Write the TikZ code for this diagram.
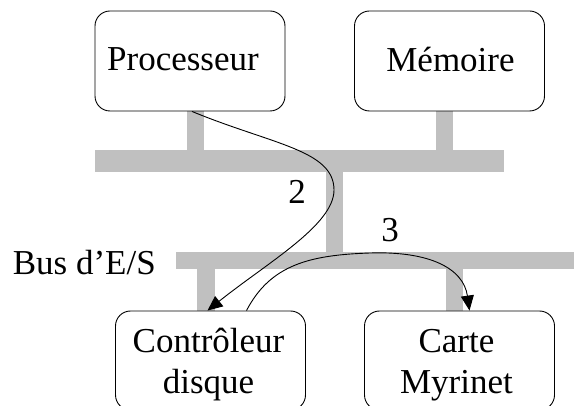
\documentclass[tikz,border=0pt]{standalone}
\usepackage{fontspec}
\setmainfont{Liberation Serif}
\usetikzlibrary{arrows.meta}
\definecolor{busgray}{RGB}{192,192,192}
% box text moved by (#1 right, #2 up) without changing the box size
\newcommand{\placed}[3]{\hspace*{#1}\raisebox{#2}[\height][\depth]{#3}\hspace*{-#1}}
\newcommand{\twolines}[2]{\begin{tabular}{@{}c@{}}#1\\#2\end{tabular}}
\begin{document}
\begin{tikzpicture}[x=1pt,y=-1pt,
  unit/.style={draw=black, line width=0.9pt, rounded corners=15pt, fill=white,
    minimum width=190pt, inner sep=0pt,
    font=\fontsize{35}{41}\selectfont},
  bus/.style={fill=busgray},
  flow/.style={draw=black, line width=0.9pt, -{Triangle[length=15pt,width=13pt]}},
  lbl/.style={font=\fontsize{35}{41}\selectfont, inner sep=0pt}]
\useasboundingbox (0,0) rectangle (574,406);

% system bus and I/O bus with their branches
\fill[bus] (95,150) rectangle (504,172);
\fill[bus] (176,252) rectangle (574,269);
\fill[bus] (326,172) rectangle (343,252);
\fill[bus] (187,111) rectangle (204,150);
\fill[bus] (436,111) rectangle (453,150);
\fill[bus] (197,269) rectangle (215,311);
\fill[bus] (446,269) rectangle (463,311);

% units
\node[unit, minimum height=100pt] (proc) at (190,61) {\placed{-7pt}{2pt}{Processeur}};
\node[unit, minimum height=100pt] (mem) at (449.5,61) {\placed{1pt}{1pt}{Mémoire}};
\node[unit, minimum height=99pt] (ctrl) at (210.5,360.5) {\placed{-2pt}{-4pt}{\twolines{Contrôleur}{disque}}};
\node[unit, minimum height=99pt] (nic) at (459.5,360.5) {\placed{-3pt}{-4pt}{\twolines{Carte}{Myrinet}}};

% labels
\node[lbl] (two) at (297,192) {2};
\node[lbl] (three) at (390,230) {3};
\node[lbl, anchor=base east] (iobus) at (156,275) {Bus d’E/S};

% transfers
\coordinate (bend2) at (334,190);
\coordinate (top3) at (370,253);
\draw[flow] ([xshift=2pt]proc.south) .. controls +(80,33) and +(0,-40) .. (bend2)
  .. controls +(0,35) and +(60,-48) .. ([xshift=-3pt]ctrl.north);
\draw[flow] ([xshift=36pt]ctrl.north) .. controls +(24,-46) and +(-60,2) .. (top3)
  .. controls +(60,-2) and +(-6,-42) .. ([xshift=10pt]nic.north);
\end{tikzpicture}
\end{document}
